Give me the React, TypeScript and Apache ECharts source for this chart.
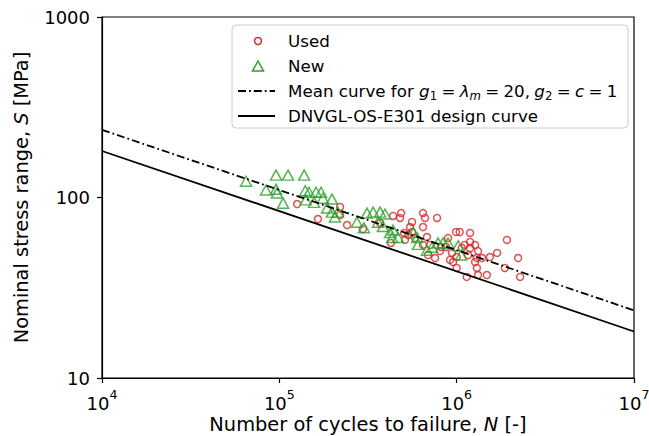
import React, { useEffect, useRef } from "react";
import * as echarts from "echarts";

// Used specimens: cycles to failure N and stress range S [MPa]
const usedCycles = [
  1.26e5, 1.65e5, 2.2e5, 2.2e5, 2.41e5, 2.96e5, 3.7e5, 4.26e5, 4.38e5, 4.86e5,
  4.79e5, 6.46e5, 5.6e5, 6.63e5, 6.46e5, 5.46e5, 5.05e5, 5.6e5, 5.32e5, 5.82e5,
  5.11e5, 6.8e5, 6.46e5, 7.08e5, 6.89e5, 7.55e5, 8.05e5, 8.94e5, 8.71e5, 9.41e5,
  1.0e6, 9.54e5, 1.04e6, 1.19e6, 1.19e6, 1.27e6, 1.07e6, 1.19e6, 1.32e6, 1.16e6,
  1.3e6, 1.27e6, 1.39e6, 1.54e6, 1.69e6, 1.0e6, 1.14e6, 1.3e6, 1.32e6, 1.48e6,
  1.87e6, 2.22e6, 2.28e6, 1.92e6, 9.17e5, 1.11e6, 7.75e5, 9.92e5, 8.16e5,
];
const usedStress = [
  92, 76, 88.6, 80, 70.4, 66.9, 72.2, 56, 79, 82,
  77, 82, 73.2, 77, 68.6, 68.6, 63.6, 64.4, 62, 59.6,
  58.2, 60.4, 54.6, 54.6, 48, 46.2, 50.5, 59.6, 53.2, 49.3,
  46.8, 43.9, 64.4, 63.6, 56.7, 54.6, 52.5, 52.5, 50.5, 48,
  46.2, 43.9, 46.2, 46.8, 49.3, 40.7, 36.3, 40.7, 37.2, 37.2,
  40.7, 46.2, 36.3, 58.2, 45.1, 54.6, 77, 64.4, 53.2,
];

// New specimens
const newCycles = [
  6.49e4, 9.58e4, 1.12e5, 1.38e5, 8.41e4, 9.58e4, 9.7e4, 1.05e5, 1.4e5, 1.47e5,
  1.61e5, 1.72e5, 1.41e5, 1.57e5, 1.76e5, 1.98e5, 1.86e5, 1.98e5, 2.06e5, 2.14e5,
  2.74e5, 3.0e5, 3.12e5, 3.38e5, 3.7e5, 3.94e5, 3.6e5, 3.84e5, 4.21e5, 4.32e5,
  4.38e5, 4.67e5, 5.68e5, 5.98e5, 6.05e5, 6.8e5, 7.26e5, 7.85e5, 8.37e5, 8.94e5,
  1.02e6, 1.06e6,
];
const newStress = [
  123, 133, 133, 133, 110, 111, 106, 93, 109, 107,
  107, 107, 97, 94, 99, 98, 87.5, 83, 78, 83,
  73, 68, 82, 83, 83, 81, 73, 69, 64, 60,
  66, 60, 64, 60, 55, 51, 53, 56, 56, 56,
  54, 48,
];

// S-N curves (slope m = 3), end points
const curveCycles = [1e4, 1e7];
const meanCurveStress = [237, 23.7];
const designCurveStress = [181, 18.1];

// Axes
const xRange = [1e4, 1e7];
const yRange = [10, 1000];

const legendLabels = ["Used", "New", "Mean curve", "DNVGL-OS-E301 design curve"];

const RED = "#d62728";
const GREEN = "#2ca02c";
const FONT = "DejaVu Sans";

export default function App() {
  const ref = useRef<HTMLDivElement>(null);

  useEffect(() => {
    if (!ref.current) return;
    const chart = echarts.init(ref.current, undefined, { renderer: "svg" });

    const used = usedCycles.map((n, i) => [n, usedStress[i]]);
    const fresh = newCycles.map((n, i) => [n, newStress[i]]);
    const mean = curveCycles.map((n, i) => [n, meanCurveStress[i]]);
    const design = curveCycles.map((n, i) => [n, designCurveStress[i]]);

    const lx = 232, ly = 25;
    const legendTextStyle = { fontFamily: FONT, fontSize: 16.7, fill: "#000" };

    chart.setOption({
      animation: false,
      backgroundColor: "#fff",
      textStyle: { fontFamily: FONT },
      grid: {
        left: 102,
        right: 15,
        top: 17,
        bottom: 58,
        outerBoundsMode: "none",
        containLabel: false,
        show: true,
        borderColor: "#000",
        borderWidth: 1.2,
        backgroundColor: "transparent",
      },
      xAxis: {
        type: "log",
        logBase: 10,
        min: xRange[0],
        max: xRange[1],
        splitLine: { show: false },
        axisLine: { show: true, lineStyle: { color: "#000", width: 1.2 } },
        axisTick: { show: true, length: 5, lineStyle: { color: "#000", width: 1.2 } },
        minorTick: { show: false },
        axisLabel: {
          margin: 10,
          color: "#000",
          formatter: (v: number) => `{b|10}{s|${Math.round(Math.log10(v))}}`,
          rich: {
            b: { fontFamily: FONT, fontSize: 18, lineHeight: 24, verticalAlign: "bottom", color: "#000" },
            s: { fontFamily: FONT, fontSize: 12.6, lineHeight: 10, verticalAlign: "top", color: "#000" },
          },
        },
        name: "{n|Number of cycles to failure, }{i|N}{n| [-]}",
        nameLocation: "middle",
        nameGap: 36,
        nameMoveOverlap: false,
        nameTextStyle: {
          rich: {
            n: { fontFamily: FONT, fontSize: 19.4, lineHeight: 20, color: "#000" },
            i: { fontFamily: FONT, fontSize: 19.4, lineHeight: 20, fontStyle: "italic", color: "#000" },
          },
        },
      },
      yAxis: {
        type: "log",
        logBase: 10,
        min: yRange[0],
        max: yRange[1],
        splitLine: { show: false },
        axisLine: { show: true, lineStyle: { color: "#000", width: 1.2 } },
        axisTick: { show: true, length: 5, lineStyle: { color: "#000", width: 1.2 } },
        minorTick: { show: false },
        axisLabel: {
          margin: 12,
          color: "#000",
          fontFamily: FONT,
          fontSize: 18,
          formatter: (v: number) => String(Math.round(v)),
        },
        name: "{n|Nominal stress range, }{i|S}{n| [MPa]}",
        nameLocation: "middle",
        nameGap: 71,
        nameRotate: 90,
        nameMoveOverlap: false,
        nameTextStyle: {
          rich: {
            n: { fontFamily: FONT, fontSize: 19.4, color: "#000" },
            i: { fontFamily: FONT, fontSize: 19.4, fontStyle: "italic", color: "#000" },
          },
        },
      },
      series: [
        {
          name: legendLabels[0],
          type: "scatter",
          data: used,
          symbol: "circle",
          symbolSize: 7,
          itemStyle: { color: "rgba(0,0,0,0)", borderColor: RED, borderWidth: 1.5 },
          z: 2,
        },
        {
          name: legendLabels[1],
          type: "scatter",
          data: fresh,
          symbol: "triangle",
          symbolSize: [11, 10],
          itemStyle: { color: "rgba(0,0,0,0)", borderColor: GREEN, borderWidth: 1.5 },
          z: 3,
        },
        {
          name: legendLabels[2],
          type: "line",
          data: mean,
          symbol: "none",
          lineStyle: { color: "#000", width: 1.8, type: [8, 3, 1.8, 3] },
          z: 4,
        },
        {
          name: legendLabels[3],
          type: "line",
          data: design,
          symbol: "none",
          lineStyle: { color: "#000", width: 1.8, type: "solid" },
          z: 4,
        },
      ],
      graphic: [
        {
          type: "group",
          z: 100,
          children: [
            {
              type: "rect",
              shape: { x: lx, y: ly, width: 396, height: 103, r: 4 },
              style: { fill: "rgba(255,255,255,0.8)", stroke: "#cccccc", lineWidth: 1 },
            },
            {
              type: "circle",
              shape: { cx: 258, cy: 41, r: 3.5 },
              style: { fill: "none", stroke: RED, lineWidth: 1.5 },
            },
            {
              type: "polygon",
              shape: { points: [[258, 61], [252.5, 71], [263.5, 71]] },
              style: { fill: "none", stroke: GREEN, lineWidth: 1.5 },
            },
            {
              type: "line",
              shape: { x1: 238, y1: 91, x2: 275, y2: 91 },
              style: { stroke: "#000", lineWidth: 1.8, lineDash: [8, 3, 1.8, 3] },
            },
            {
              type: "line",
              shape: { x1: 238, y1: 116, x2: 275, y2: 116 },
              style: { stroke: "#000", lineWidth: 1.8 },
            },
            {
              type: "text",
              style: { ...legendTextStyle, text: legendLabels[0], x: 288, y: 41, verticalAlign: "middle" },
            },
            {
              type: "text",
              style: { ...legendTextStyle, text: legendLabels[1], x: 288, y: 66, verticalAlign: "middle" },
            },
            {
              type: "text",
              style: {
                x: 288,
                y: 91,
                verticalAlign: "middle",
                text:
                  "{n|Mean curve for }{i|g}{sub|1}{sp| }{n|=}{sp| }{i|λ}{subi|m}{sp| }{n|=}{sp| }{n|20,}{sp| }{i|g}{sub|2}{sp| }{n|=}{sp| }{i|c}{sp| }{n|=}{sp| }{n|1}",
                rich: {
                  n: { fontFamily: FONT, fontSize: 16.7, lineHeight: 22, fill: "#000" },
                  sp: { fontFamily: FONT, fontSize: 13.5, lineHeight: 22, fill: "#000" },
                  i: { fontFamily: FONT, fontSize: 16.7, lineHeight: 22, fontStyle: "italic", fill: "#000" },
                  sub: { fontFamily: FONT, fontSize: 11.7, lineHeight: 12, verticalAlign: "bottom", fill: "#000" },
                  subi: {
                    fontFamily: FONT,
                    fontSize: 11.7,
                    lineHeight: 12,
                    verticalAlign: "bottom",
                    fontStyle: "italic",
                    fill: "#000",
                  },
                },
              },
            },
            {
              type: "text",
              style: { ...legendTextStyle, text: legendLabels[3], x: 288, y: 116, verticalAlign: "middle" },
            },
          ],
        },
      ],
    });

    return () => chart.dispose();
  }, []);

  return (
    <div
      ref={ref}
      style={{ position: "absolute", left: 0, top: 0, width: 649, height: 436, background: "#fff" }}
    />
  );
}
